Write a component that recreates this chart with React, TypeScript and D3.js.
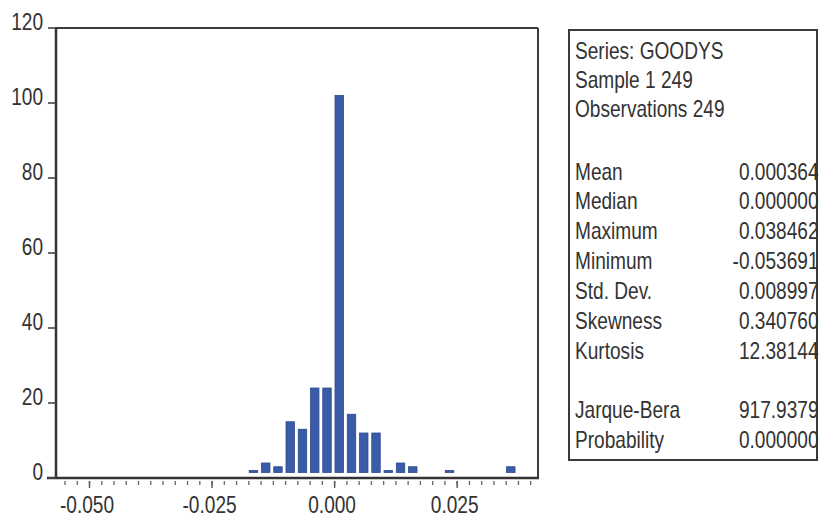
import React from "react";
import * as d3 from "d3";

// ---- data ----
const binStarts = [-0.0175, -0.015, -0.0125, -0.01, -0.0075, -0.005, -0.0025, 0, 0.0025, 0.005, 0.0075, 0.01, 0.0125, 0.015, 0.0225, 0.035];
const counts = [2, 4, 3, 15, 13, 24, 24, 102, 17, 12, 12, 2, 4, 3, 2, 3];
const binWidth = 0.0025;

const yTicks = [0, 20, 40, 60, 80, 100, 120];
const xMajorTicks = [-0.05, -0.025, 0, 0.025];
const xMajorLabels = ["-0.050", "-0.025", "0.000", "0.025"];

const headerLines = ["Series: GOODYS", "Sample 1 249", "Observations 249"];
const statNames = ["Mean", "Median", "Maximum", "Minimum", "Std. Dev.", "Skewness", "Kurtosis", "", "Jarque-Bera", "Probability"];
const statValues = ["0.000364", "0.000000", "0.038462", "-0.053691", "0.008997", "0.340760", "12.38144", "", "917.9379", "0.000000"];

// ---- layout ----
const W = 819;
const H = 518;
const frame = { left: 56, right: 538, top: 28, bottom: 478 };
const box = { left: 569, right: 817, top: 30, bottom: 460 };
const FONT = "'Liberation Sans', Arial, sans-serif";
const FS = 23;
const SX = 0.83;
const TXT = "#333";
const BAR_GAP = 5.5;

export default function App() {
  const x = d3.scaleLinear().domain([-0.055, 0.04]).range([65, 530.7]);
  const y = d3.scaleLinear().domain([0, 120]).range([frame.bottom, frame.top]);
  const minorTicks = d3.range(0, 39).map((i) => -0.055 + i * 0.0025);

  const text = (key: string, tx: number, ty: number, s: string, anchor: string, fs = FS) => (
    <text
      key={key}
      transform={`translate(${tx},${ty}) scale(${SX},1)`}
      textAnchor={anchor as any}
      fontFamily={FONT}
      fontSize={fs}
      fill={TXT}
    >
      {s}
    </text>
  );

  return (
    <svg width={W} height={H} style={{ position: "absolute", left: 0, top: 0, background: "#fff" }}>
      <rect x={0} y={0} width={W} height={H} fill="#fff" />
      {/* bars */}
      {binStarts.map((b, i) => {
        const x0 = x(b);
        const bw = (x(b + binWidth) - x(b)) * 0.69;
        const top = y(counts[i]);
        const h = Math.max(1.5, y(0) - BAR_GAP - top);
        return (
          <rect
            key={"bar" + i}
            x={x0 + 0.4}
            y={top}
            width={bw}
            height={h}
            fill="#3a5ca8"
            stroke="#2b4a8e"
            strokeWidth={0.8}
          />
        );
      })}
      {/* frame */}
      <line x1={frame.left} y1={frame.top} x2={frame.right} y2={frame.top} stroke="#3a3a3a" strokeWidth={2} />
      <line x1={frame.right} y1={frame.top} x2={frame.right} y2={frame.bottom} stroke="#3a3a3a" strokeWidth={2} />
      <line x1={frame.left} y1={frame.top - 1} x2={frame.left} y2={frame.bottom} stroke="#333" strokeWidth={2.5} />
      <line x1={47} y1={frame.bottom} x2={frame.right + 1} y2={frame.bottom} stroke="#333" strokeWidth={2.5} />
      {/* y ticks + labels */}
      {yTicks.map((t) => (
        <g key={"yt" + t}>
          <line x1={48} x2={frame.left} y1={y(t)} y2={y(t)} stroke="#444" strokeWidth={1.6} />
          {text("yl" + t, 43, y(t) + 2, String(t), "end")}
        </g>
      ))}
      {/* x minor ticks */}
      {minorTicks.map((t, i) => (
        <line key={"xm" + i} x1={x(t)} x2={x(t)} y1={481} y2={485} stroke="#666" strokeWidth={1.3} />
      ))}
      {xMajorTicks.map((t, i) => (
        <g key={"xM" + i}>
          <line x1={x(t)} x2={x(t)} y1={481} y2={488} stroke="#555" strokeWidth={1.4} />
          {text("xl" + i, x(t) - 2.5, 513, xMajorLabels[i], "middle")}
        </g>
      ))}
      {/* stats box */}
      <rect
        x={box.left}
        y={box.top}
        width={box.right - box.left}
        height={box.bottom - box.top}
        fill="none"
        stroke="#3a3a3a"
        strokeWidth={2}
      />
      {headerLines.map((s, i) => text("h" + i, 575, 58.5 + i * 29.3, s, "start"))}
      {statNames.map((s, i) =>
        s ? text("sn" + i, 575, 179.5 + i * 29.85, s, "start") : null
      )}
      {statValues.map((s, i) =>
        s ? text("sv" + i, 818.5, 179.5 + i * 29.85, s, "end") : null
      )}
    </svg>
  );
}
